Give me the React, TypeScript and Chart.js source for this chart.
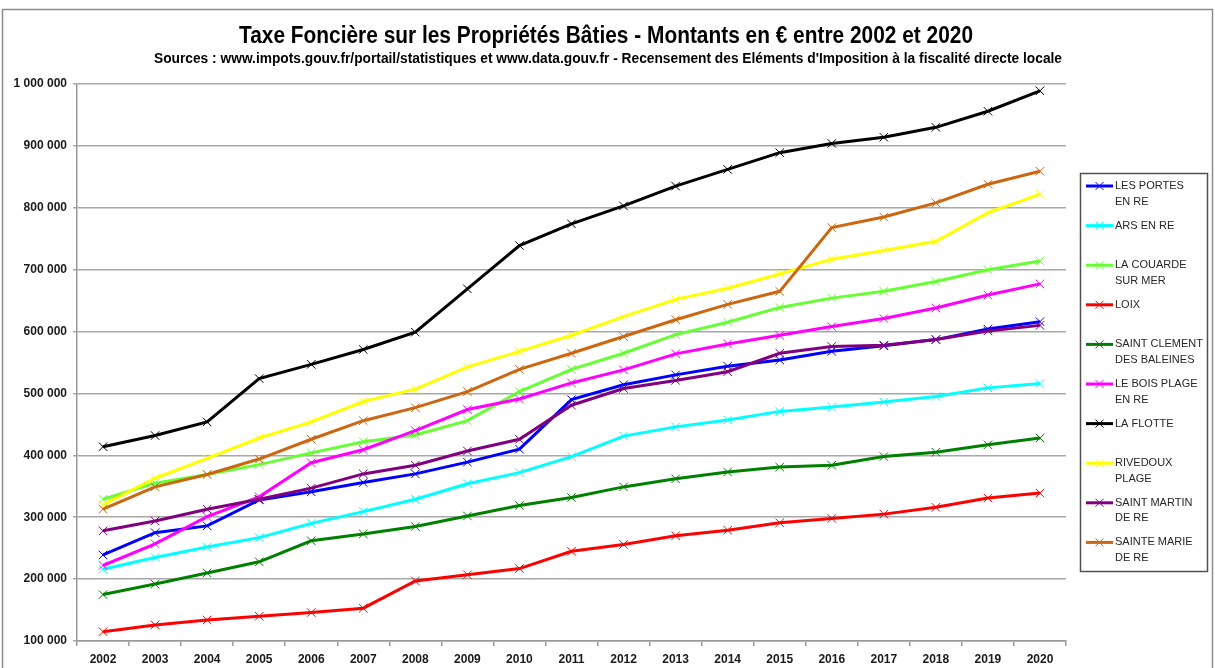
import React, { useEffect, useRef } from "react";
import { Chart, registerables } from "chart.js";

Chart.register(...registerables);

const YEARS = ["2002","2003","2004","2005","2006","2007","2008","2009","2010","2011","2012","2013","2014","2015","2016","2017","2018","2019","2020"];

const LES_PORTES = [239000,275000,286000,328000,341000,356000,370000,389000,410000,490000,514000,530000,544000,554000,568000,577000,587000,604000,616000];
const ARS = [216000,235000,252000,267000,290000,309000,329000,354000,372000,398000,431000,446000,457000,471000,478000,486000,495000,509000,516000];
const LA_COUARDE = [329000,355000,369000,385000,404000,422000,433000,456000,503000,539000,565000,595000,615000,639000,654000,665000,681000,700000,714000];
const LOIX = [115000,126000,134000,140000,146000,153000,197000,207000,217000,245000,256000,270000,279000,291000,298000,305000,316000,331000,339000];
const SAINT_CLEMENT = [175000,192000,210000,228000,262000,273000,285000,302000,319000,332000,349000,362000,373000,381000,384000,398000,405000,417000,428000];
const BOIS_PLAGE = [222000,257000,301000,333000,388000,409000,440000,474000,491000,517000,538000,564000,580000,594000,608000,621000,638000,659000,677000];
const LA_FLOTTE = [414000,432000,454000,524000,547000,571000,599000,669000,739000,774000,803000,835000,862000,889000,904000,914000,930000,956000,989000];
const RIVEDOUX = [320000,363000,395000,428000,454000,487000,507000,543000,568000,594000,624000,652000,670000,693000,717000,731000,746000,792000,822000];
const SAINT_MARTIN = [278000,294000,313000,329000,347000,370000,384000,407000,426000,481000,508000,521000,535000,565000,576000,578000,587000,601000,610000];
const SAINTE_MARIE = [313000,349000,369000,394000,426000,456000,477000,503000,539000,565000,592000,619000,644000,665000,768000,785000,808000,838000,859000];

const SERIES_NAMES = [
  ["LES PORTES", "EN RE"],
  ["ARS EN RE"],
  ["LA COUARDE", "SUR MER"],
  ["LOIX"],
  ["SAINT CLEMENT", "DES BALEINES"],
  ["LE BOIS PLAGE", "EN RE"],
  ["LA FLOTTE"],
  ["RIVEDOUX", "PLAGE"],
  ["SAINT MARTIN", "DE RE"],
  ["SAINTE MARIE", "DE RE"],
];
const SERIES_VALUES = [LES_PORTES, ARS, LA_COUARDE, LOIX, SAINT_CLEMENT, BOIS_PLAGE, LA_FLOTTE, RIVEDOUX, SAINT_MARTIN, SAINTE_MARIE];
const SERIES_COLORS = ["#0000FF", "#00FFFF", "#66FF33", "#FF0000", "#008000", "#FF00FF", "#000000", "#FFFF00", "#800080", "#CC6610"];

const TITLE = "Taxe Foncière sur les Propriétés Bâties - Montants en € entre 2002 et 2020";
const SUBTITLE = "Sources : www.impots.gouv.fr/portail/statistiques et www.data.gouv.fr - Recensement des Eléments d'Imposition à la fiscalité directe locale";

function drawFitted(ctx: any, text: string, font: string, cx: number, cy: number, width: number) {
  ctx.save();
  ctx.font = font;
  const w = ctx.measureText(text).width;
  const sx = width / w;
  ctx.translate(cx, cy);
  ctx.scale(sx, 1);
  ctx.textAlign = "center";
  ctx.textBaseline = "middle";
  ctx.fillStyle = "#000000";
  ctx.fillText(text, 0, 0);
  ctx.restore();
}

const frame = {
  id: "frame",
  beforeDraw(chart: any) {
    const ctx = chart.ctx;
    ctx.save();
    ctx.fillStyle = "#ffffff";
    ctx.fillRect(0, 0, chart.width, chart.height);
    ctx.strokeStyle = "#8c8c8c";
    ctx.lineWidth = 1.5;
    ctx.strokeRect(2.5, 9.5, 1210, 700);
    ctx.restore();
    drawFitted(ctx, TITLE, "bold 23px 'Liberation Sans', Arial, sans-serif", 606, 37, 734);
    drawFitted(ctx, SUBTITLE, "bold 14px 'Liberation Sans', Arial, sans-serif", 608, 59, 908);
  },
};

const customLegend = {
  id: "customLegend",
  afterDraw(chart: any) {
    const ctx = chart.ctx;
    ctx.save();
    ctx.strokeStyle = "#505050";
    ctx.lineWidth = 1.5;
    ctx.strokeRect(1080.5, 173.5, 127, 398);
    chart.data.datasets.forEach((ds: any, i: number) => {
      const y = 186 + i * 39.6;
      ctx.strokeStyle = ds.borderColor;
      ctx.lineWidth = 3;
      ctx.beginPath();
      ctx.moveTo(1086, y);
      ctx.lineTo(1113, y);
      ctx.stroke();
      ctx.lineWidth = 1;
      const r = 4;
      ctx.beginPath();
      ctx.moveTo(1099.5 - r, y - r);
      ctx.lineTo(1099.5 + r, y + r);
      ctx.moveTo(1099.5 - r, y + r);
      ctx.lineTo(1099.5 + r, y - r);
      ctx.stroke();
      ctx.fillStyle = "#262626";
      ctx.font = "11px 'Liberation Sans', Arial, sans-serif";
      ctx.textAlign = "left";
      ctx.textBaseline = "middle";
      const lines = SERIES_NAMES[i];
      lines.forEach((t, k) => ctx.fillText(t, 1115, y + k * 15.5));
    });
    ctx.restore();
  },
};

function fmt(v: number) {
  return String(Math.round(v)).replace(/\B(?=(\d{3})+(?!\d))/g, " ");
}

export default function App() {
  const ref = useRef<HTMLCanvasElement>(null);
  useEffect(() => {
    document.body.style.margin = "0";
    const datasets = SERIES_VALUES.map((vals, i) => ({
      label: SERIES_NAMES[i].join(" "),
      data: vals,
      borderColor: SERIES_COLORS[i],
      backgroundColor: SERIES_COLORS[i],
      pointBorderColor: SERIES_COLORS[i],
      borderWidth: 3,
      pointStyle: "crossRot",
      pointRadius: 6,
      pointBorderWidth: 1,
      tension: 0,
      fill: false,
      order: SERIES_VALUES.length - i,
    }));
    const chart = new Chart(ref.current as HTMLCanvasElement, {
      type: "line",
      data: { labels: YEARS, datasets },
      plugins: [frame, customLegend],
      options: {
        animation: false,
        responsive: false,
        maintainAspectRatio: false,
        layout: { padding: { left: 0, right: 149, top: 84, bottom: 0 } },
        plugins: {
          legend: { display: false },
          tooltip: { enabled: false },
          title: { display: false },
          subtitle: { display: false },
        },
        scales: {
          x: {
            type: "category",
            offset: true,
            grid: {
              display: true,
              drawOnChartArea: false,
              drawTicks: true,
              tickLength: 5,
              offset: true,
              color: "#999999",
              lineWidth: 1.5,
            },
            border: { color: "#999999", width: 1.5 },
            ticks: {
              color: "#1a1a1a",
              padding: 6,
              maxRotation: 0,
              autoSkip: false,
              font: { family: "'Liberation Sans', Arial, sans-serif", size: 12, weight: "bold" },
            },
            afterFit: (s: any) => { s.height = 27; },
          },
          y: {
            min: 100000,
            max: 1000000,
            grid: {
              color: "#a8a8a8",
              lineWidth: 1.5,
              tickLength: 4,
              drawTicks: true,
            },
            border: { color: "#999999", width: 1.5 },
            ticks: {
              stepSize: 100000,
              color: "#1a1a1a",
              padding: 6,
              font: { family: "'Liberation Sans', Arial, sans-serif", size: 12, weight: "bold" },
              callback: (v: any) => fmt(Number(v)),
            },
            afterFit: (s: any) => { s.width = 77; },
          },
        },
      } as any,
    });
    return () => chart.destroy();
  }, []);
  return (
    <div style={{ width: 1215, height: 668 }}>
      <canvas ref={ref} width={1215} height={668} style={{ display: "block" }} />
    </div>
  );
}
